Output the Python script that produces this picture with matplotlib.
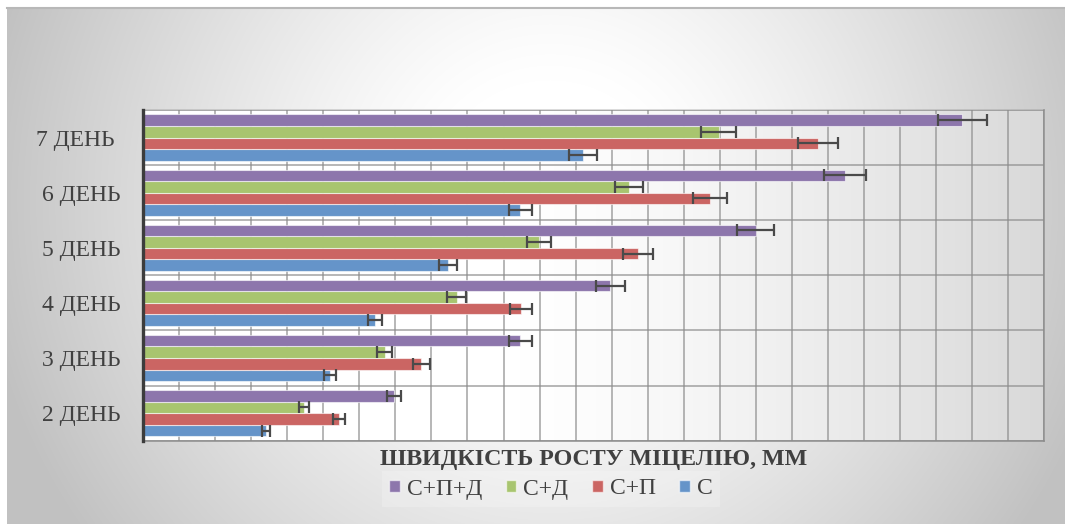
import numpy as np
import matplotlib
matplotlib.use('Agg')
import matplotlib.pyplot as plt
from matplotlib.patches import Patch

plt.rcParams['font.family'] = ['Liberation Serif', 'DejaVu Serif']

days = ['2 ДЕНЬ', '3 ДЕНЬ', '4 ДЕНЬ', '5 ДЕНЬ', '6 ДЕНЬ', '7 ДЕНЬ ']
series = ['С', 'С+П', 'С+Д', 'С+П+Д']

# швидкість росту, мм (середнє та похибка)
c_mean = [3.41, 5.19, 6.44, 8.45, 10.47, 12.20]
c_err = [0.11, 0.17, 0.20, 0.25, 0.31, 0.38]
cp_mean = [5.44, 7.72, 10.48, 13.73, 15.72, 18.73]
cp_err = [0.16, 0.24, 0.31, 0.42, 0.47, 0.56]
cd_mean = [4.47, 6.70, 8.70, 10.98, 13.48, 15.97]
cd_err = [0.14, 0.22, 0.27, 0.33, 0.40, 0.49]
cpd_mean = [6.96, 10.47, 12.96, 16.99, 19.47, 22.73]
cpd_err = [0.20, 0.32, 0.40, 0.51, 0.59, 0.68]

means = [c_mean, cp_mean, cd_mean, cpd_mean]
errs = [c_err, cp_err, cd_err, cpd_err]
colors = ['#6594c9', '#cb6563', '#a8c56f', '#8d76ac']

W, H = 1065, 524
fig = plt.figure(figsize=(W / 100, H / 100), dpi=100)

# фон діаграми: радіальний градієнт
bg = fig.add_axes([7 / W, 0, 1 - 7 / W, 1 - 8 / H], zorder=-10)
yy, xx = np.mgrid[8:H, 7:W]
d = np.hypot(xx - 550, (yy - 200) * 1.0)
v = 1 - 0.22 * np.clip((d - 120) / 420, 0, None) ** 1.2
v = np.clip(v, 0.76, 1)
bg.imshow(np.dstack([v, v, v]), aspect='auto', interpolation='bilinear')
bg.axis('off')
fig.add_artist(plt.Line2D([7 / W, 1], [1 - 8 / H, 1 - 8 / H], color='#b8b8b8', lw=1.5))

ax = fig.add_axes([143 / W, 1 - 440.7 / H, (1044.3 - 143) / W, (440.7 - 110) / H])
ax.set_xlim(0, 25)
ax.set_ylim(-0.5, 5.5)

# заливка області побудови
gx = np.linspace(0, 1, 300)
gv = 1 - 0.15 * np.clip((gx - 0.42) / 0.58, 0, 1) ** 1.3
ax.imshow(np.dstack([gv, gv, gv]), aspect='auto', extent=[0, 25, -0.5, 5.5],
          zorder=0, interpolation='bilinear')

y = np.arange(len(days))
h = 0.21
offsets = [-1.5 * h, -0.5 * h, 0.5 * h, 1.5 * h]
for m, e, c, off, name in zip(means, errs, colors, offsets, series):
    ax.barh(y + off, m, height=h, color=c, edgecolor=(1, 1, 1, 0.6), linewidth=0.8,
            zorder=3, label=name)
    ax.errorbar(m, y + off, xerr=e, fmt='none', ecolor='#4a4a4a', elinewidth=1.6,
                capsize=4.5, capthick=1.6, zorder=4)

ax.set_xticks(np.arange(0, 26, 1))
ax.set_yticks(np.arange(-0.5, 6, 0.5), minor=True)
ax.set_yticks(y)
ax.set_yticklabels(days, fontsize=17, color='#404040')
ax.tick_params(axis='y', length=0, pad=16)
ax.tick_params(axis='x', length=0, labelbottom=False)
ax.tick_params(axis='y', which='minor', length=0)
ax.grid(axis='x', color='#8c8c8c', lw=1.1, alpha=0.8, zorder=1)
ax.grid(axis='y', which='minor', color='#8c8c8c', lw=1.1, alpha=0.8, zorder=1)
ax.grid(axis='y', which='major', visible=False)
ax.set_axisbelow(True)
for s in ['top', 'right', 'bottom']:
    ax.spines[s].set_color('#8c8c8c')
    ax.spines[s].set_linewidth(1.1)
ax.spines['top'].set_alpha(0.4)
ax.spines['left'].set_color('#3c3c3c')
ax.spines['left'].set_linewidth(2.4)
ax.spines['left'].set_zorder(5)

fig.text(593.5 / W, 1 - 459 / H, 'ШВИДКІСТЬ РОСТУ МІЦЕЛІЮ, ММ', ha='center', va='center',
         fontsize=17.3, fontweight='bold', color='#404040')

handles = [Patch(facecolor=c, edgecolor=(1, 1, 1, 0.6), label=n) for c, n in zip(colors, series)][::-1]
leg = fig.legend(handles=handles, loc='center', bbox_to_anchor=(551 / W, 1 - 489 / H), ncol=4,
                 frameon=True, fontsize=17, handlelength=0.45, handleheight=0.45,
                 handletextpad=0.3, columnspacing=1.0, borderpad=0.3)
leg.get_frame().set_facecolor('white')
leg.get_frame().set_alpha(0.2)
leg.get_frame().set_edgecolor('none')
leg.get_frame().set_boxstyle('square', pad=0)
for t in leg.get_texts():
    t.set_color('#404040')

fig.savefig('out.png', dpi=100)
